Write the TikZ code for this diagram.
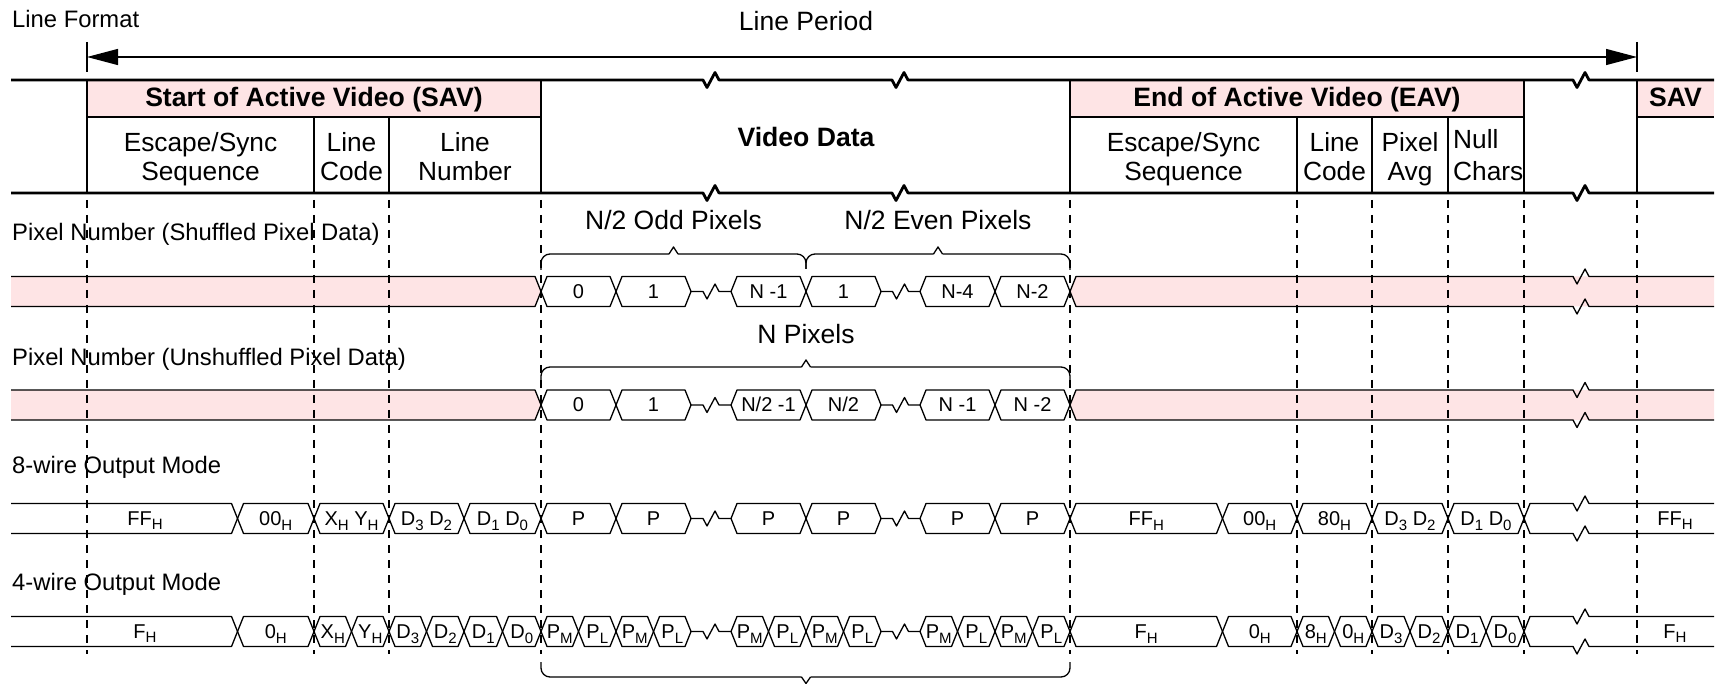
\documentclass[tikz,border=0pt]{standalone}
\usepackage{fontspec}
\setmainfont{Liberation Sans}
\usetikzlibrary{arrows.meta}
\definecolor{pk}{RGB}{254,228,229}
\newcommand\sbs[1]{\raisebox{-4.5pt}{\fontsize{15}{15}\selectfont #1}}
% hexagonal bus cell: name, x start, x end, mid y, label
\newcommand\hexc[5]{%
  \draw[sig] (#2,#4) -- (#2+6,#4-15) -- (#3-6,#4-15) -- (#3,#4) -- (#3-6,#4+15) -- (#2+6,#4+15) -- cycle;
  \node[cell] (#1) at ({(#2+#3)/2},#4+7) {#5};}
% centre line with break mark between two pointed cell ends
\newcommand\gapz[3]{%
  \draw[sig] (#1,#3) -- ({(#1+#2)/2-8},#3) -- ++(4,7.5) -- ++(8,-15) -- ++(4,7.5) -- (#2,#3);}
% open bus running to the right edge with a break mark
\newcommand\tail[2]{%
  \draw[sig] (#1,#2) -- (#1+6,#2-15) -- (1573,#2-15) -- ++(4,7.5) -- ++(8,-15) -- ++(4,7.5) -- (1714,#2-15);
  \draw[sig] (#1,#2) -- (#1+6,#2+15) -- (1573,#2+15) -- ++(4,7.5) -- ++(8,-15) -- ++(4,7.5) -- (1714,#2+15);}
% bus coming from the left edge, ending in a transition
\newcommand\head[2]{%
  \draw[sig] (11,#2-15) -- (#1-6,#2-15) -- (#1,#2) -- (#1-6,#2+15) -- (11,#2+15);}
\newcommand\pkhead[2]{%
  \fill[pk] (11,#2-15) -- (#1-6,#2-15) -- (#1,#2) -- (#1-6,#2+15) -- (11,#2+15) -- cycle;}
\newcommand\pktail[2]{%
  \fill[pk] (#1,#2) -- (#1+6,#2-15) -- (1714,#2-15) -- (1714,#2+15) -- (#1+6,#2+15) -- cycle;}
\begin{document}
\begin{tikzpicture}[x=1pt,y=-1pt,line join=round,
  sig/.style={line width=1.3pt},
  hd/.style={line width=2.8pt},
  thn/.style={line width=1.3pt},
  dsh/.style={line width=1.3pt,dash pattern=on 8pt off 7pt},
  brc/.style={line width=1.3pt,rounded corners=9pt},
  lbl/.style={inner sep=0pt,anchor=base west,font=\fontsize{23.8}{28}\selectfont},
  ttl/.style={inner sep=0pt,anchor=base,font=\fontsize{26.5}{30}\selectfont},
  hdr/.style={inner sep=0pt,anchor=base,font=\fontsize{26.6}{30}\selectfont\bfseries},
  subl/.style={inner sep=0pt,anchor=base,font=\fontsize{26.3}{29}\selectfont},
  cell/.style={inner sep=0pt,anchor=base,font=\fontsize{20}{22}\selectfont},
]
\useasboundingbox (0,0) rectangle (1722,684);

% ---------- title and line period arrow ----------
\node[lbl] (lf) at (12,28) {Line Format};
\node[ttl] (lp) at (806,31) {Line Period};
\coordinate (pl) at (87,57);
\coordinate (pr) at (1637,57);
\draw[thn,{Triangle[length=31pt,width=16pt]}-{Triangle[length=31pt,width=16pt]}] (pl) -- (pr);
\draw[thn] (87,42) -- (87,72);
\draw[thn] (1637,42) -- (1637,72);

% ---------- line format header ----------
\fill[pk] (87,80) rectangle (541,117);
\fill[pk] (1070,80) rectangle (1524,117);
\fill[pk] (1637,80) rectangle (1714,117);
\draw[thn] (87,117) -- (541,117);
\draw[thn] (1070,117) -- (1524,117);
\draw[thn] (1637,117) -- (1714,117);
\foreach \x in {314,389,1297,1372,1448} \draw[thn] (\x,117) -- (\x,193);
\foreach \y in {80,193}
  \draw[hd] (11,\y) -- (703,\y) -- ++(4,7.5) -- ++(8,-15) -- ++(4,7.5) -- (892,\y)
     -- ++(4,7.5) -- ++(8,-15) -- ++(4,7.5) -- (1573,\y)
     -- ++(4,7.5) -- ++(8,-15) -- ++(4,7.5) -- (1714,\y);
\foreach \x in {87,541,1070,1524,1637} \draw[hd] (\x,80) -- (\x,193);

\node[hdr] (savh) at (314,107) {Start of Active Video (SAV)};
\node[hdr] (eavh) at (1297,107) {End of Active Video (EAV)};
\node[hdr] (sav2h) at (1675.5,107) {SAV};
\node[hdr] (vd) at (806,146.5) {Video Data};
\node[subl] (s1a) at (200.5,151.5) {Escape/Sync};
\node[subl] (s1b) at (200.5,180.5) {Sequence};
\node[subl] (s2a) at (351.5,151.5) {Line};
\node[subl] (s2b) at (351.5,180.5) {Code};
\node[subl] (s3a) at (465,151.5) {Line};
\node[subl] (s3b) at (465,180.5) {Number};
\node[subl] (e1a) at (1183.5,151.5) {Escape/Sync};
\node[subl] (e1b) at (1183.5,180.5) {Sequence};
\node[subl] (e2a) at (1334.5,151.5) {Line};
\node[subl] (e2b) at (1334.5,180.5) {Code};
\node[subl] (e3a) at (1410,151.5) {Pixel};
\node[subl] (e3b) at (1410,180.5) {Avg};
\node[subl,anchor=base west] (e4a) at (1453,149) {Null};
\node[subl,anchor=base west] (e4b) at (1453,180.5) {Chars};

% ---------- lane 1: shuffled ----------
\node[lbl] (l1) at (12,241) {Pixel Number (Shuffled Pixel Data)};
\node[ttl] (bo) at (673.5,230) {N/2 Odd Pixels};
\node[ttl] (be) at (938,230) {N/2 Even Pixels};
\draw[brc] (541,270) -- (541,254) -- (669,254);
\draw[thn] (669,254) -- (673.5,247) -- (678,254);
\draw[brc] (678,254) -- (806,254) -- (806,269);
\draw[brc] (806,269) -- (806,254) -- (933.5,254);
\draw[thn] (933.5,254) -- (938,247) -- (942.5,254);
\draw[brc] (942.5,254) -- (1070,254) -- (1070,270);
\pkhead{541}{291.5}
\head{541}{291.5}
\hexc{a0}{541}{616}{291.5}{0}
\hexc{a1}{616}{691}{291.5}{1}
\gapz{691}{731}{291.5}
\hexc{a2}{731}{806}{291.5}{N -1}
\hexc{a3}{806}{881}{291.5}{1}
\gapz{881}{920}{291.5}
\hexc{a4}{920}{995}{291.5}{N-4}
\hexc{a5}{995}{1070}{291.5}{N-2}
\pktail{1070}{291.5}
\tail{1070}{291.5}

% ---------- lane 2: unshuffled ----------
\node[lbl] (l2) at (12,366) {Pixel Number (Unshuffled Pixel Data)};
\node[ttl] (bn) at (806,344) {N Pixels};
\draw[brc] (541,383) -- (541,367) -- (801.5,367);
\draw[thn] (801.5,367) -- (806,360) -- (810.5,367);
\draw[brc] (810.5,367) -- (1070,367) -- (1070,383);
\pkhead{541}{405}
\head{541}{405}
\hexc{u0}{541}{616}{405}{0}
\hexc{u1}{616}{691}{405}{1}
\gapz{691}{731}{405}
\hexc{u2}{731}{806}{405}{N/2 -1}
\hexc{u3}{806}{881}{405}{N/2}
\gapz{881}{920}{405}
\hexc{u4}{920}{995}{405}{N -1}
\hexc{u5}{995}{1070}{405}{N -2}
\pktail{1070}{405}
\tail{1070}{405}

% ---------- lane 3: 8-wire ----------
\node[lbl] (l3) at (12,474) {8-wire Output Mode};
\head{237.5}{518.5}
\node[cell] (w0) at (145,525) {FF\sbs{H}};
\hexc{w1}{237.5}{314}{518.5}{00\sbs{H}}
\hexc{w2}{314}{389}{518.5}{X\sbs{H} Y\sbs{H}}
\hexc{w3}{389}{464}{518.5}{D\sbs{3} D\sbs{2}}
\hexc{w4}{464}{541}{518.5}{D\sbs{1} D\sbs{0}}
\hexc{w5}{541}{616}{518.5}{P}
\hexc{w6}{616}{691}{518.5}{P}
\gapz{691}{731}{518.5}
\hexc{w7}{731}{806}{518.5}{P}
\hexc{w8}{806}{881}{518.5}{P}
\gapz{881}{920}{518.5}
\hexc{w9}{920}{995}{518.5}{P}
\hexc{w10}{995}{1070}{518.5}{P}
\hexc{w11}{1070}{1222.5}{518.5}{FF\sbs{H}}
\hexc{w12}{1222.5}{1297}{518.5}{00\sbs{H}}
\hexc{w13}{1297}{1372}{518.5}{80\sbs{H}}
\hexc{w14}{1372}{1448}{518.5}{D\sbs{3} D\sbs{2}}
\hexc{w15}{1448}{1524}{518.5}{D\sbs{1} D\sbs{0}}
\tail{1524}{518.5}
\node[cell] (w16) at (1675,525) {FF\sbs{H}};

% ---------- lane 4: 4-wire ----------
\node[lbl] (l4) at (12,590) {4-wire Output Mode};
\head{237.5}{631.5}
\node[cell] (f0) at (145,638) {F\sbs{H}};
\hexc{f1}{237.5}{314}{631.5}{0\sbs{H}}
\hexc{f2}{314}{351.5}{631.5}{X\sbs{H}}
\hexc{f3}{351.5}{389}{631.5}{Y\sbs{H}}
\hexc{f4}{389}{426.5}{631.5}{D\sbs{3}}
\hexc{f5}{426.5}{464}{631.5}{D\sbs{2}}
\hexc{f6}{464}{502.5}{631.5}{D\sbs{1}}
\hexc{f7}{502.5}{541}{631.5}{D\sbs{0}}
\hexc{f8}{541}{578.5}{631.5}{P\sbs{M}}
\hexc{f9}{578.5}{616}{631.5}{P\sbs{L}}
\hexc{f10}{616}{653.5}{631.5}{P\sbs{M}}
\hexc{f11}{653.5}{691}{631.5}{P\sbs{L}}
\gapz{691}{731}{631.5}
\hexc{f12}{731}{768.5}{631.5}{P\sbs{M}}
\hexc{f13}{768.5}{806}{631.5}{P\sbs{L}}
\hexc{f14}{806}{843.5}{631.5}{P\sbs{M}}
\hexc{f15}{843.5}{881}{631.5}{P\sbs{L}}
\gapz{881}{920}{631.5}
\hexc{f16}{920}{957.5}{631.5}{P\sbs{M}}
\hexc{f17}{957.5}{995}{631.5}{P\sbs{L}}
\hexc{f18}{995}{1032.5}{631.5}{P\sbs{M}}
\hexc{f19}{1032.5}{1070}{631.5}{P\sbs{L}}
\hexc{f20}{1070}{1222.5}{631.5}{F\sbs{H}}
\hexc{f21}{1222.5}{1297}{631.5}{0\sbs{H}}
\hexc{f22}{1297}{1334.5}{631.5}{8\sbs{H}}
\hexc{f23}{1334.5}{1372}{631.5}{0\sbs{H}}
\hexc{f24}{1372}{1410}{631.5}{D\sbs{3}}
\hexc{f25}{1410}{1448}{631.5}{D\sbs{2}}
\hexc{f26}{1448}{1486}{631.5}{D\sbs{1}}
\hexc{f27}{1486}{1524}{631.5}{D\sbs{0}}
\tail{1524}{631.5}
\node[cell] (f28) at (1675,638) {F\sbs{H}};

% bottom brace
\draw[brc] (541,662) -- (541,677) -- (801.5,677);
\draw[thn] (801.5,677) -- (806,683.5) -- (810.5,677);
\draw[brc] (810.5,677) -- (1070,677) -- (1070,662);

% ---------- dashed guide lines ----------
\foreach \x in {87,314,389,541,1070,1297,1372,1448,1524,1637}
  \draw[dsh] (\x,200) -- (\x,654);
\end{tikzpicture}
\end{document}
